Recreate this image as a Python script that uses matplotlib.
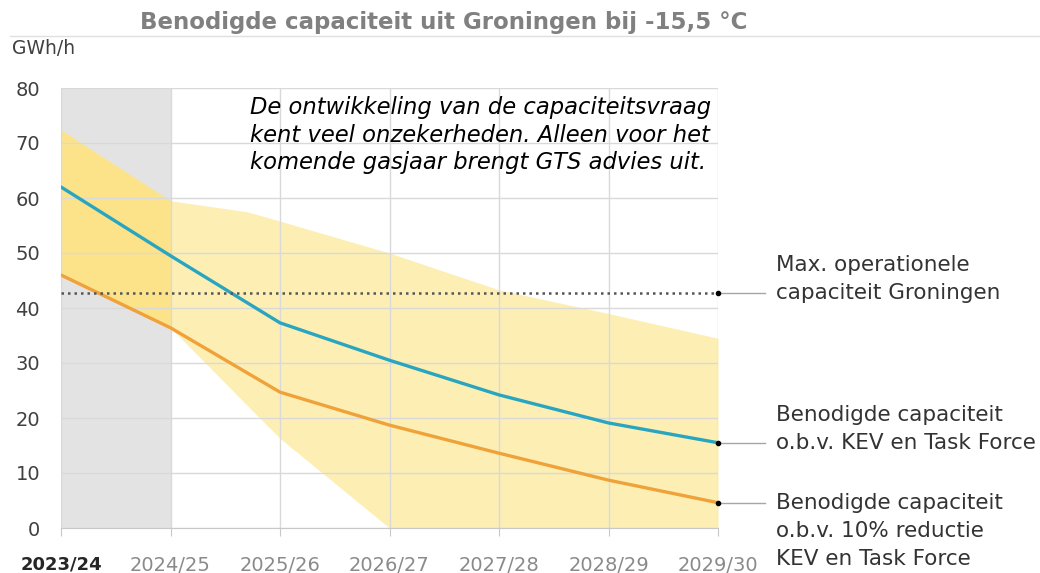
import numpy as np
import matplotlib
matplotlib.use("Agg")
import matplotlib.pyplot as plt
from matplotlib.lines import Line2D

plt.rcParams['font.family'] = ['DejaVu Sans']

# data
years = ['2023/24', '2024/25', '2025/26', '2026/27', '2027/28', '2028/29', '2029/30']
kev = [62.0, 49.5, 37.3, 30.5, 24.2, 19.1, 15.5]
kev_red = [46.0, 36.4, 24.7, 18.7, 13.6, 8.7, 4.6]
max_cap = 42.7
band_x = [0, 1, 1.7, 2, 3, 4, 5, 6]
band_hi = [72.4, 59.5, 57.5, 55.8, 50.0, 43.3, 39.0, 34.5]
band_lo = [46.0, 36.4, 22.3, 16.3, 0.0, 0.0, 0.0, 0.0]

title = 'Benodigde capaciteit uit Groningen bij -15,5 °C'
note = ('De ontwikkeling van de capaciteitsvraag\n'
        'kent veel onzekerheden. Alleen voor het\n'
        'komende gasjaar brengt GTS advies uit.')
lbl_max = ['Max. operationele', 'capaciteit Groningen']
lbl_kev = ['Benodigde capaciteit', 'o.b.v. KEV en Task Force']
lbl_red = ['Benodigde capaciteit', 'o.b.v. 10% reductie', 'KEV en Task Force']

fig = plt.figure(figsize=(10.4, 5.73), dpi=100)
ax = fig.add_axes([61 / 1040, 45 / 573, 657 / 1040, 440 / 573])

n = len(years) - 1
ax.axvspan(0, 1, color='#e3e3e3', zorder=0.1, lw=0)

bx = np.array(band_x, dtype=float)
bh = np.array(band_hi)
bl = np.array(band_lo)
m1 = bx <= 1
m2 = bx >= 1
ax.fill_between(bx[m1], bl[m1], bh[m1], color='#fce38a', lw=0, zorder=0.3)
ax.fill_between(bx[m2], bl[m2], bh[m2], color='#fdefb4', lw=0, zorder=0.3)

x = np.arange(len(years))
ax.plot(x, kev, color='#2aa5c0', lw=2.4, zorder=3, solid_capstyle='round')
ax.plot(x, kev_red, color='#f0a23a', lw=2.4, zorder=3, solid_capstyle='round')
ax.hlines(max_cap, 0, n, colors='#555555', linestyles=(0, (1, 1.6)), lw=1.8, zorder=3)

# end markers and leader lines
ends = [(max_cap, lbl_max, 1), (kev[-1], lbl_kev, 1), (kev_red[-1], lbl_red, 0)]
for yv, lines, anchor in ends:
    ax.plot([n], [yv], 'o', color='black', ms=3, zorder=4, clip_on=False)
    ax.plot([n, n + 0.43], [yv, yv], color='#a6a6a6', lw=1, zorder=2, clip_on=False)
    for i, t in enumerate(lines):
        ax.text(n + 0.53, yv + (anchor - i) * 5.1, t, fontsize=15.5, color='#333333',
                ha='left', va='center', clip_on=False)

ax.text(1.73, 78.5, note, fontsize=16.3, style='italic', color='black',
        ha='left', va='top', linespacing=1.24)

ax.set_xlim(0, n)
ax.set_ylim(0, 80)
ax.set_yticks(range(0, 81, 10))
ax.set_xticks(x)
ax.set_xticklabels(years)
ax.tick_params(axis='x', labelsize=14, length=6, color='#c8c8c8', pad=14)
ax.tick_params(axis='y', labelsize=14, length=0, pad=15, labelcolor='#404040')
for i, t in enumerate(ax.get_xticklabels()):
    if i == 0:
        t.set_color('#262626')
        t.set_fontweight('bold')
        t.set_fontsize(13)
    else:
        t.set_color('#8a8a8a')
ax.grid(True, color='#d9d9d9', lw=1)
ax.set_axisbelow(True)
for s in ['top', 'right', 'left']:
    ax.spines[s].set_visible(False)
ax.spines['bottom'].set_color('#c8c8c8')

fig.text(12 / 1040, 1 - 48 / 573, 'GWh/h', fontsize=13.5, color='#404040', ha='left', va='center')
fig.text(444 / 1040, 1 - 22 / 573, title, fontsize=16.5, fontweight='bold',
         color='#808080', ha='center', va='center')
fig.add_artist(Line2D([10 / 1040, 1], [1 - 36 / 573, 1 - 36 / 573], color='#e0e0e0', lw=1))

fig.savefig('out.png', dpi=100)
